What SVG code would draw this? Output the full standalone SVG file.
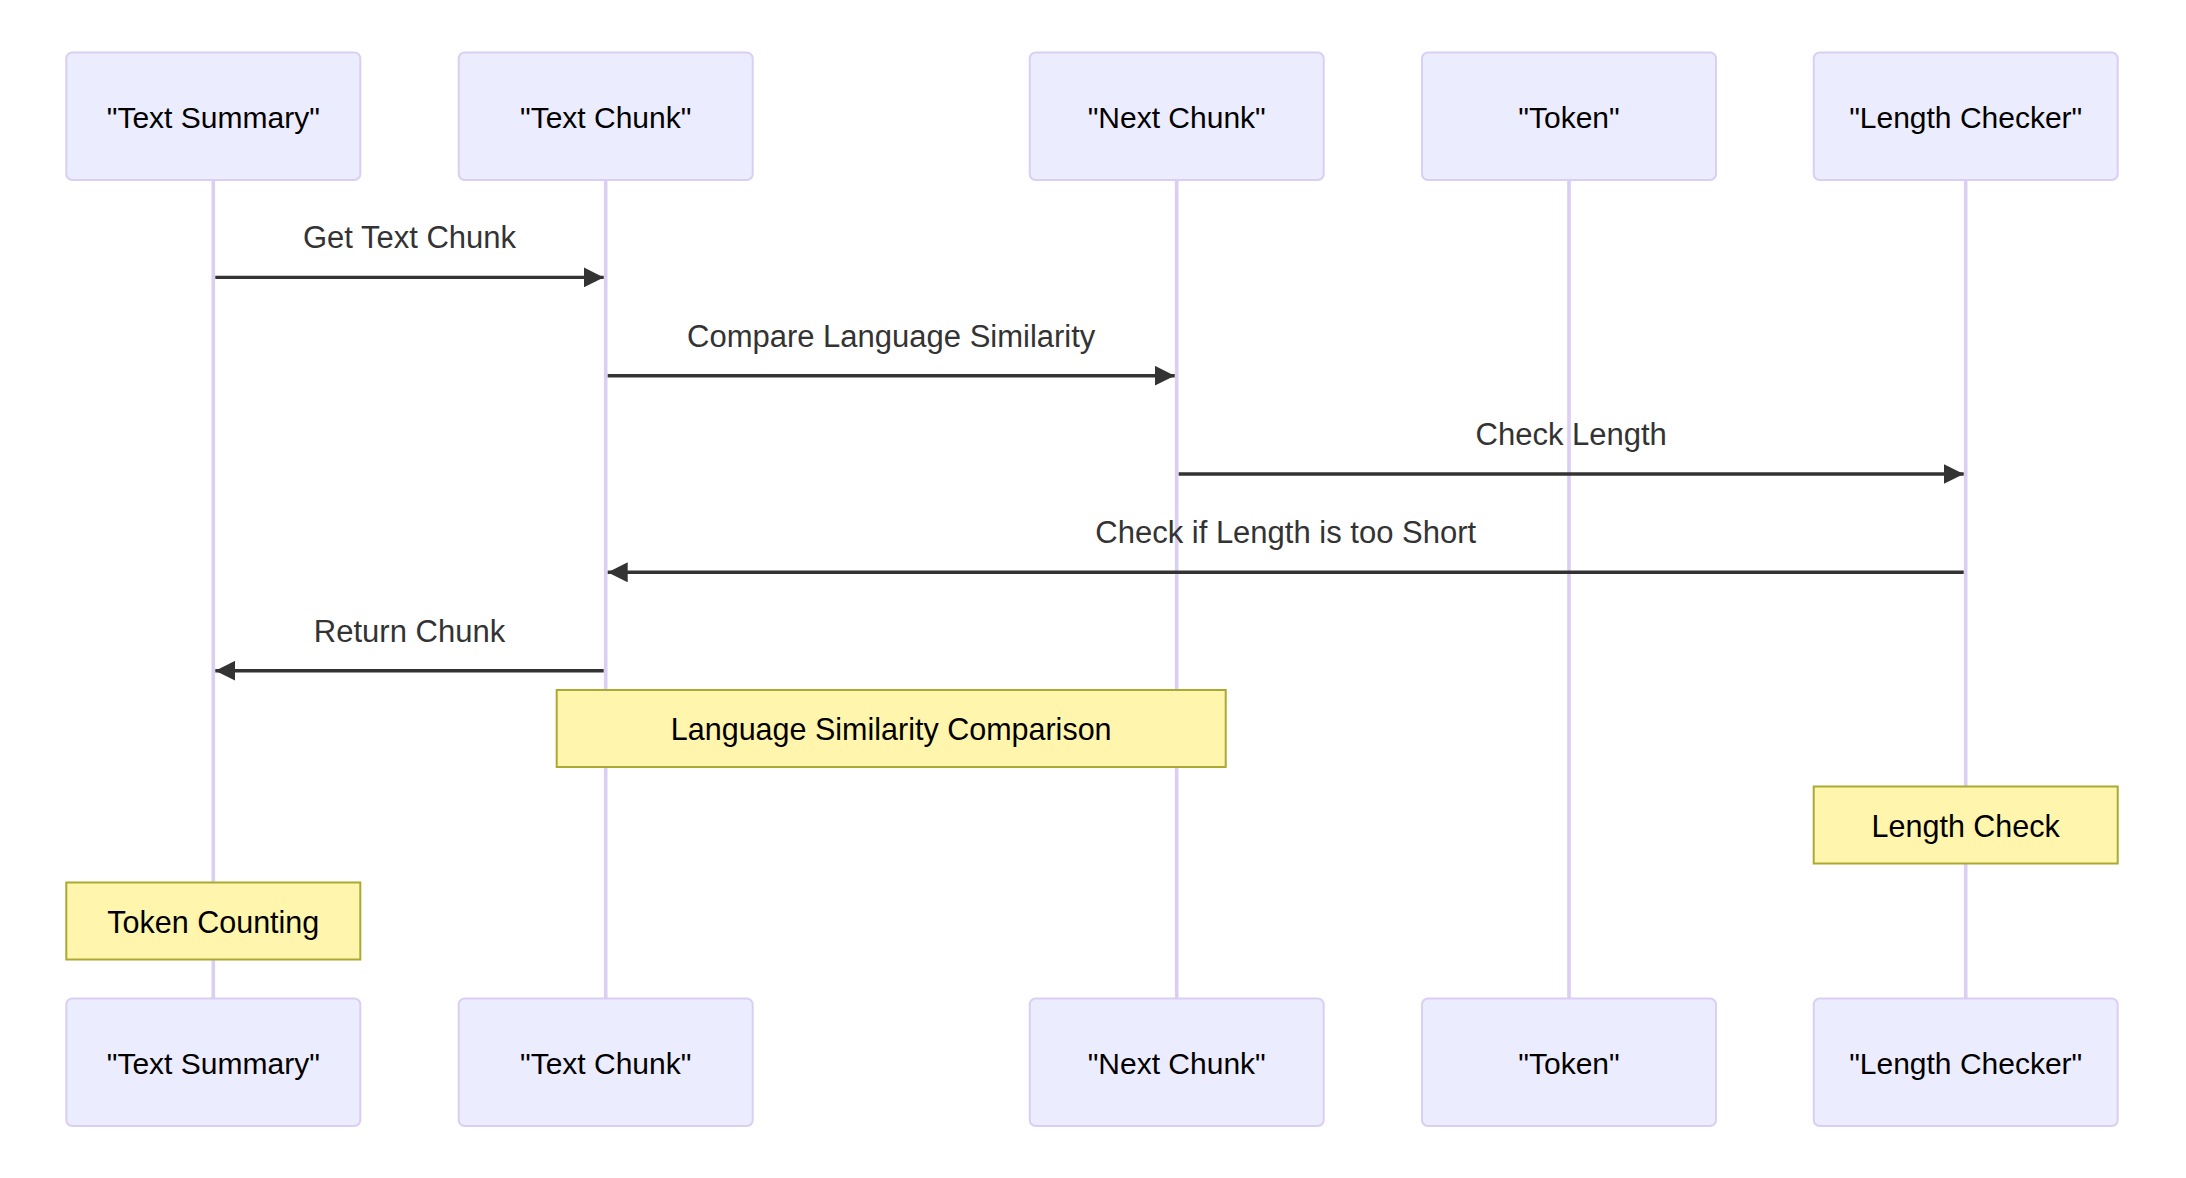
<svg xmlns="http://www.w3.org/2000/svg" width="2186" height="1178" viewBox="0 0 2186 1178">
<style>
.actor{fill:#ECECFF;stroke:#DACEF3;stroke-width:2}
.atext{font-family:"Liberation Sans",Arial,sans-serif;font-size:30px;fill:#000;text-anchor:middle}
.life{stroke:#DACEF3;stroke-width:3.6;fill:none}
.msg{stroke:#333;stroke-width:3.4;fill:none;marker-end:url(#arrow)}
.mtext{font-family:"Liberation Sans",Arial,sans-serif;font-size:31px;fill:#333;text-anchor:middle}
.note{fill:#FFF5AD;stroke:#AAAA33;stroke-width:2}
.ntext{font-family:"Liberation Sans",Arial,sans-serif;font-size:30.5px;fill:#000;text-anchor:middle}
</style>
<defs>
<marker id="arrow" viewBox="0 0 10 10" refX="10" refY="5" markerUnits="userSpaceOnUse" markerWidth="20" markerHeight="20" orient="auto">
<path d="M0,0 L10,5 L0,10 z" fill="#333"/>
</marker>
</defs>
<rect width="2186" height="1178" fill="#fff"/>
<g id="lifelines">
<line class="life" x1="213.3" y1="180" x2="213.3" y2="998.5"/>
<line class="life" x1="605.7" y1="180" x2="605.7" y2="998.5"/>
<line class="life" x1="1176.7" y1="180" x2="1176.7" y2="998.5"/>
<line class="life" x1="1569" y1="180" x2="1569" y2="998.5"/>
<line class="life" x1="1965.7" y1="180" x2="1965.7" y2="998.5"/>
</g>
<g id="actor-text-summary">
<rect class="actor" x="66.3" y="52.5" width="294" height="127.5" rx="6"/>
<text class="atext" x="213.3" y="127.5">"Text Summary"</text>
<rect class="actor" x="66.3" y="998.5" width="294" height="127.5" rx="6"/>
<text class="atext" x="213.3" y="1073.5">"Text Summary"</text>
</g>
<g id="actor-text-chunk">
<rect class="actor" x="458.7" y="52.5" width="294" height="127.5" rx="6"/>
<text class="atext" x="605.7" y="127.5">"Text Chunk"</text>
<rect class="actor" x="458.7" y="998.5" width="294" height="127.5" rx="6"/>
<text class="atext" x="605.7" y="1073.5">"Text Chunk"</text>
</g>
<g id="actor-next-chunk">
<rect class="actor" x="1029.7" y="52.5" width="294" height="127.5" rx="6"/>
<text class="atext" x="1176.7" y="127.5">"Next Chunk"</text>
<rect class="actor" x="1029.7" y="998.5" width="294" height="127.5" rx="6"/>
<text class="atext" x="1176.7" y="1073.5">"Next Chunk"</text>
</g>
<g id="actor-token">
<rect class="actor" x="1422" y="52.5" width="294" height="127.5" rx="6"/>
<text class="atext" x="1569" y="127.5">"Token"</text>
<rect class="actor" x="1422" y="998.5" width="294" height="127.5" rx="6"/>
<text class="atext" x="1569" y="1073.5">"Token"</text>
</g>
<g id="actor-length-checker">
<rect class="actor" x="1813.7" y="52.5" width="304" height="127.5" rx="6"/>
<text class="atext" x="1965.7" y="127.5">"Length Checker"</text>
<rect class="actor" x="1813.7" y="998.5" width="304" height="127.5" rx="6"/>
<text class="atext" x="1965.7" y="1073.5">"Length Checker"</text>
</g>
<g id="connectors">
<line class="msg" x1="215.3" y1="277.4" x2="603.7" y2="277.4"/>
<text class="mtext" x="409.5" y="248.4">Get Text Chunk</text>
<line class="msg" x1="607.7" y1="375.7" x2="1174.7" y2="375.7"/>
<text class="mtext" x="891.2" y="346.7">Compare Language Similarity</text>
<line class="msg" x1="1178.7" y1="474" x2="1963.7" y2="474"/>
<text class="mtext" x="1571.2" y="445">Check Length</text>
<line class="msg" x1="1963.7" y1="572.3" x2="607.7" y2="572.3"/>
<text class="mtext" x="1285.7" y="543.3">Check if Length is too Short</text>
<line class="msg" x1="603.7" y1="670.7" x2="215.3" y2="670.7"/>
<text class="mtext" x="409.5" y="641.7">Return Chunk</text>
</g>
<g id="note-language-similarity">
<rect class="note" x="556.7" y="690" width="669" height="77"/>
<text class="ntext" x="891.2" y="740">Language Similarity Comparison</text>
</g>
<g id="note-length-check">
<rect class="note" x="1813.7" y="786.5" width="304" height="77"/>
<text class="ntext" x="1965.7" y="836.5">Length Check</text>
</g>
<g id="note-token-counting">
<rect class="note" x="66.3" y="882.5" width="294" height="77"/>
<text class="ntext" x="213.3" y="932.5">Token Counting</text>
</g>
</svg>
